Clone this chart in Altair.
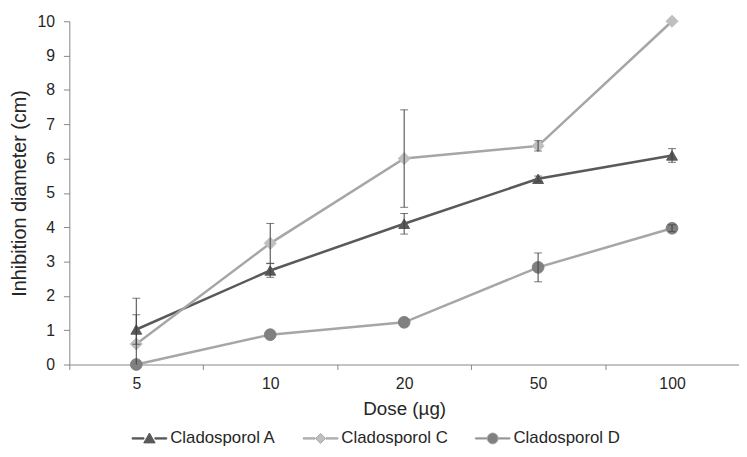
import altair as alt
import pandas as pd

doses = ["5", "10", "20", "50", "100"]
series = ["Cladosporol A", "Cladosporol C", "Cladosporol D"]
a_mean = [1.02, 2.74, 4.10, 5.41, 6.09]
a_err = [0.43, 0.20, 0.30, 0.08, 0.20]
c_mean = [0.60, 3.53, 6.00, 6.37, 10.0]
c_err = [1.33, 0.58, 1.42, 0.15, 0.0]
d_mean = [0.0, 0.87, 1.23, 2.83, 3.97]
d_err = [0.0, 0.0, 0.0, 0.42, 0.10]

line_colors = ["#595959", "#a6a6a6", "#a6a6a6"]
fill_colors = ["#595959", "#bfbfbf", "#808080"]
marker_shapes = ["triangle-up", "diamond", "circle"]
marker_sizes = [120, 150, 140]

rows = []
for s, m, e in zip(series, [a_mean, c_mean, d_mean], [a_err, c_err, d_err]):
    for d, mv, ev in zip(doses, m, e):
        rows.append(dict(series=s, dose=d, mean=mv, err=ev,
                         lo=max(0.0, mv - ev), hi=mv + ev, lo_raw=mv - ev))
df = pd.DataFrame(rows)

FONT = "Liberation Sans"
TXT = "#262626"

# legend symbols: line segment + marker (unit coords, scaled by sqrt(size)/2)
LINE = "M-3.5,-0.13H-1.1V0.13H-3.5ZM1.1,-0.13H3.5V0.13H1.1Z"
legend_shapes = [
    LINE + "M0,-1.1L1.15,0.9H-1.15Z",
    LINE + "M0,-1L1,0L0,1L-1,0Z",
    LINE + "M1.1,0A1.1,1.1 0 1,1 -1.1,0A1.1,1.1 0 1,1 1.1,0Z",
]

x_axis = alt.Axis(title="Dose (µg)", labelAngle=0, tickBand="extent")
y_axis = alt.Axis(title="Inhibition diameter (cm)", values=list(range(11)),
                  labelOverlap=False)
x_scale = alt.Scale(type="band", paddingInner=0, paddingOuter=0)
y_scale = alt.Scale(domain=[0, 10], nice=False)


def X():
    return alt.X("dose:N", sort=doses, scale=x_scale, axis=x_axis)


def Y(field):
    return alt.Y(field, scale=y_scale, axis=y_axis)


stroke_scale = alt.Scale(domain=series, range=line_colors)
fill_scale = alt.Scale(domain=series, range=fill_colors)
shape_scale = alt.Scale(domain=series, range=legend_shapes)

legend = alt.Legend(
    title=None, orient="none", direction="horizontal",
    legendX=72.5, legendY=413, padding=0,
    labelFontSize=17, labelFont=FONT, labelColor=TXT, labelOffset=12.5,
    columnPadding=25, symbolSize=100, symbolStrokeWidth=1, symbolOpacity=1,
)

base = alt.Chart(df)

legend_layer = base.transform_filter("false").mark_point(
    filled=True, size=100, strokeWidth=1, opacity=1
).encode(
    fill=alt.Fill("series:N", scale=fill_scale, legend=legend),
    stroke=alt.Stroke("series:N", scale=stroke_scale, legend=legend),
    shape=alt.Shape("series:N", scale=shape_scale, legend=legend),
)

line_layers = []
point_layers = []
for s, shp, fc, lc, sz in zip(series, marker_shapes, fill_colors, line_colors, marker_sizes):
    sub = base.transform_filter(alt.datum.series == s)
    line_layers.append(
        sub.mark_line(stroke=lc, strokeWidth=2.5).encode(x=X(), y=Y("mean:Q"))
    )
    point_layers.append(
        sub.mark_point(shape=shp, filled=True, fill=fc, stroke=fc,
                       strokeWidth=1, size=sz, opacity=1
                       ).encode(x=X(), y=Y("mean:Q"))
    )

err = base.transform_filter("datum.err > 0")
err_rules = err.mark_rule(color="#404040", strokeWidth=1).encode(
    x=X(), y=Y("lo:Q"), y2="hi:Q"
)
caps_hi = err.mark_tick(color="#404040", thickness=1, size=8,
                        orient="horizontal").encode(x=X(), y=Y("hi:Q"))
caps_lo = err.transform_filter("datum.lo_raw >= 0").mark_tick(
    color="#404040", thickness=1, size=8, orient="horizontal"
).encode(x=X(), y=Y("lo:Q"))

chart = alt.layer(
    legend_layer, *line_layers, *point_layers, err_rules, caps_hi, caps_lo
).properties(
    width=677, height=347,
    autosize=alt.AutoSizeParams(type="none"),
    padding={"left": 62, "top": 11, "right": 0, "bottom": 83},
).configure_view(stroke=None).configure_axis(
    grid=False, domainColor="#868686", tickColor="#868686",
    labelColor=TXT, titleColor=TXT, labelFont=FONT, titleFont=FONT,
    titleFontWeight="normal", labelFontSize=16,
).configure_axisX(
    tickSize=5, labelPadding=6, titlePadding=9, titleFontSize=19,
).configure_axisY(
    tickSize=6, labelPadding=9, titlePadding=8, titleFontSize=20,
)

chart.save("out.html", embed_options={"renderer": "svg", "actions": False})
